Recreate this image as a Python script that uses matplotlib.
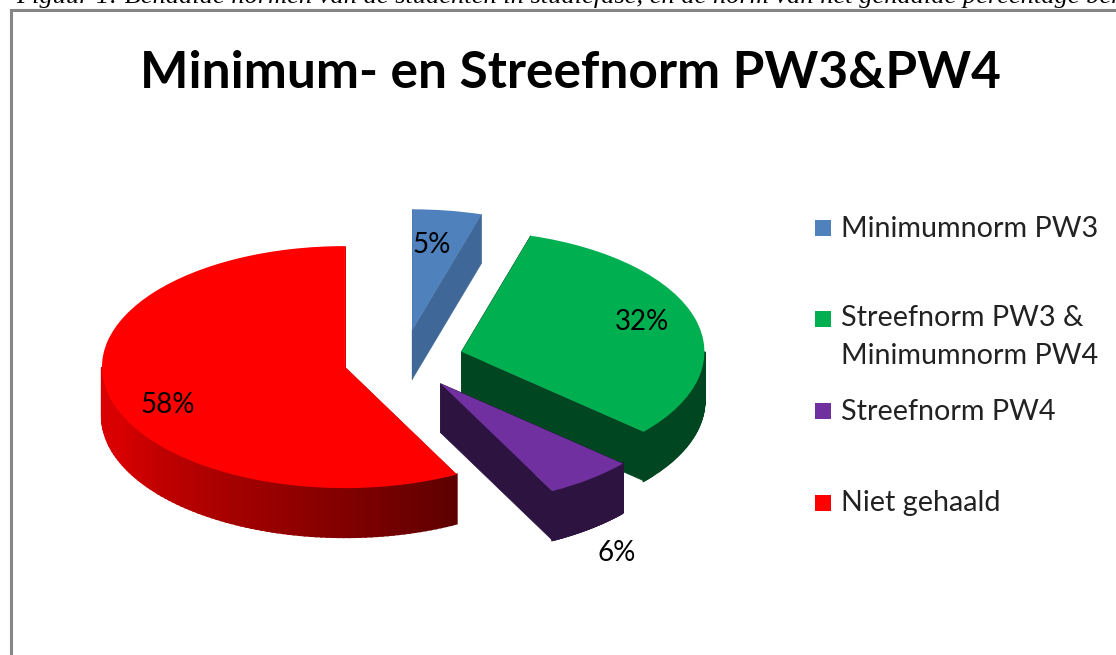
#!/usr/bin/env python3

import matplotlib
matplotlib.use("Agg")
import matplotlib.pyplot as plt
import numpy as np
from matplotlib.colors import to_rgb
from matplotlib.patches import Polygon, Rectangle

W, H = 1116, 655

caption = "Figuur 1: Behaalde normen van de studenten in studiefase, en de norm van het gehaalde percentage behaald"
title = "Minimum- en Streefnorm PW3&PW4"
categories = ["Minimumnorm PW3", "Streefnorm PW3 &\nMinimumnorm PW4",
              "Streefnorm PW4", "Niet gehaald"]
values = [4.6, 31.9, 5.9, 57.6]
top_colors = ["#4f81bd", "#00b050", "#7030a0", "#ff0000"]
side_colors = ["#3f6797", "#004620", "#2c1340", "#d80000"]

EXPLODE = 0.248
RX, RY, DEPTH = 243.0, 121.0, 49.0
CX, CY = 403.5, 360.0


def px(x, y):
    # figure fraction from reference pixels
    return x / W, 1 - y / H


def rim(angle):
    # angle is clockwise from the top
    a = np.radians(angle)
    return np.sin(a), np.cos(a)


def main():
    fig = plt.figure(figsize=(W / 100, H / 100), dpi=100)

    # 1 data unit is RX px across and RY px down
    ax = fig.add_axes([0, 0, 1, 1])
    ax.axis("off")
    dz = DEPTH / RY

    fracs = np.array(values) / sum(values)
    edges = np.concatenate([[0], np.cumsum(fracs) * 360])

    for i in range(len(values)):
        a0, a1 = edges[i], edges[i + 1]
        mx, my = rim((a0 + a1) / 2)
        ox, oy = EXPLODE * mx, EXPLODE * my
        side = side_colors[i]

        # cut faces
        for a in (a0, a1):
            x, y = rim(a)
            ax.add_patch(Polygon([(ox, oy), (ox + x, oy + y),
                                  (ox + x, oy + y - dz), (ox, oy - dz)],
                                 closed=True, fc=side, ec=side, lw=0.5, zorder=2))

        # outer wall, only the front half shows
        lo, hi = max(a0, 90), min(a1, 270)
        if hi > lo:
            t = np.linspace(lo, hi, 90)
            xs, ys = rim(t)
            for k in range(len(t) - 1):
                col = side
                if i == 3:
                    # red wall goes dark towards the cut
                    f = (t[k] - lo) / (hi - lo)
                    c0, c1 = np.array(to_rgb("#5e0000")), np.array(to_rgb(side))
                    col = c0 + (c1 - c0) * min(f * 1.25, 1)
                ax.add_patch(Polygon([(ox + xs[k], oy + ys[k]), (ox + xs[k + 1], oy + ys[k + 1]),
                                      (ox + xs[k + 1], oy + ys[k + 1] - dz), (ox + xs[k], oy + ys[k] - dz)],
                                     closed=True, fc=col, ec=col, lw=1.5, zorder=3))

    ax.pie(values, colors=top_colors, startangle=90, counterclock=False,
           explode=[EXPLODE] * len(values), radius=1, normalize=True,
           wedgeprops={"zorder": 4})
    ax.set_aspect("auto")
    ax.set_xlim(-CX / RX, (W - CX) / RX)
    ax.set_ylim(-(H - CY) / RY, CY / RY)

    font = ["Lato", "DejaVu Sans"]

    # pie labels
    label_xy = [(432, 245), (642, 322), (617, 553), (168, 405)]
    for v, (x, y) in zip(values, label_xy):
        fig.text(*px(x, y), f"{v:.0f}%", ha="center", va="center",
                 fontsize=20, family=font, color="black", zorder=6)

    # chart frame, runs off the bottom and right of the crop
    fig.add_artist(Rectangle(px(10.5, 670), 1.2, 660.5 / H, transform=fig.transFigure,
                             fc="none", ec="#868686", lw=2.2))
    fig.text(*px(16, 3), caption, ha="left", va="baseline", style="italic",
             family="Liberation Serif", fontsize=19, color="black")

    fig.text(*px(570, 88), title, ha="center", va="baseline", fontsize=37, fontweight="bold",
             family=font, color="black")

    # legend
    square_y = [228, 319, 411, 503]
    text_y = [237, 364, 420, 511]
    for name, sy, ty, c in zip(categories, square_y, text_y, top_colors):
        fig.add_artist(Rectangle(px(815, sy + 8), 16 / W, 16 / H, transform=fig.transFigure, fc=c, ec="none"))
        fig.text(*px(841, ty), name, ha="left", va="baseline", fontsize=20.7, family=font,
                 color="#222222", linespacing=1.55)

    fig.savefig("out.png", dpi=100)


if __name__ == "__main__":
    main()
